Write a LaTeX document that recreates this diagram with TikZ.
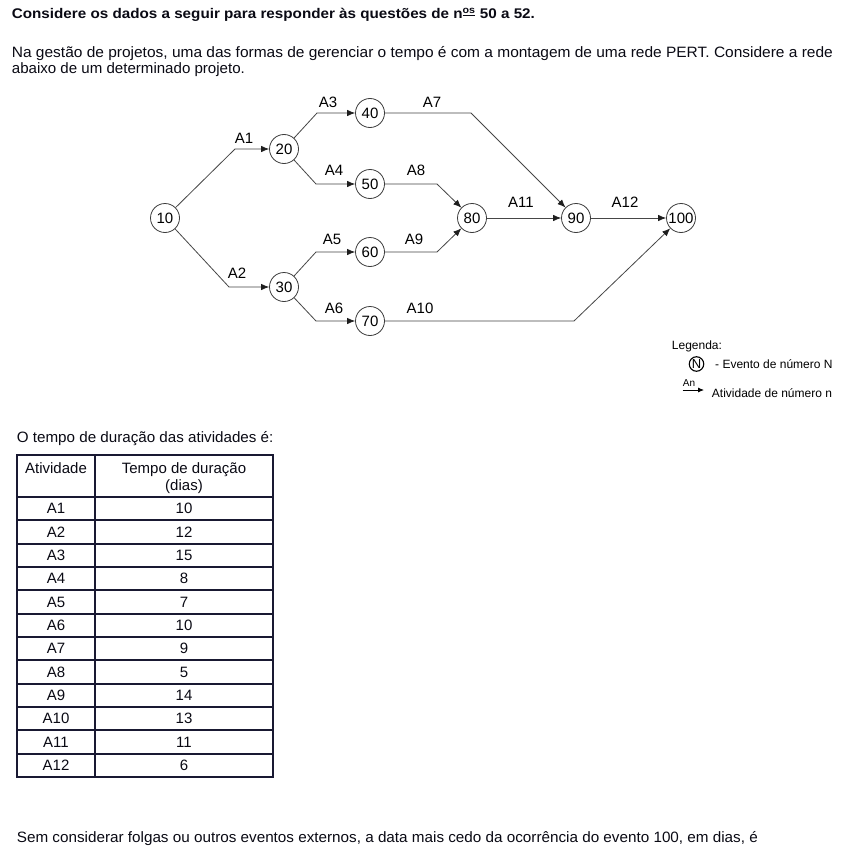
\documentclass[tikz,border=0pt]{standalone}
\usepackage{fontspec}
\usepackage{graphicx}
\setmainfont{Liberation Sans}
\usetikzlibrary{arrows.meta}
\definecolor{linec}{RGB}{70,70,70}
\definecolor{arrc}{RGB}{30,30,30}
\definecolor{evc}{RGB}{60,60,60}
\definecolor{tabc}{RGB}{25,25,50}
\definecolor{txtc}{RGB}{10,10,20}
\newcommand{\fitw}[2]{\resizebox{#1}{\height}{#2}}
\tikzset{
  txt/.style={inner sep=0pt, anchor=base west, text=txtc, font=\fontsize{15}{18}\selectfont},
  ttl/.style={inner sep=0pt, anchor=base west, text=txtc, font=\fontsize{14}{17}\selectfont\bfseries},
  ev/.style={circle, draw=evc, line width=0.8pt, minimum size=29pt, inner sep=0pt, font=\fontsize{15}{17}\selectfont},
  act/.style={draw=linec, line width=0.8pt, -{Latex[length=8pt,width=6.5pt,color=arrc]}},
  lab/.style={inner sep=0pt, anchor=base, font=\fontsize{15}{17}\selectfont},
  cell/.style={inner sep=0pt, anchor=base, text=txtc, font=\fontsize{15}{17}\selectfont},
  tline/.style={draw=tabc, line width=2pt},
  leg/.style={inner sep=0pt, anchor=base west, font=\fontsize{12}{14}\selectfont},
}
\begin{document}
\begin{tikzpicture}[x=1pt,y=-1pt]
\useasboundingbox[fill=white] (0,0) rectangle (842,856);

% texts
\node[ttl] (title) at (11.7,19) {\fitw{523pt}{Considere os dados a seguir para responder às questões de n\textsuperscript{\underline{os}} 50 a 52.}};
\node[txt] (p1) at (11.7,57.3) {\fitw{821pt}{Na gestão de projetos, uma das formas de gerenciar o tempo é com a montagem de uma rede PERT. Considere a rede}};
\node[txt] (p2) at (11.7,74) {\fitw{233pt}{abaixo de um determinado projeto.}};

% events
\node[ev] (n10) at (165,218) {10};
\node[ev] (n20) at (284,149) {20};
\node[ev] (n30) at (284,287) {30};
\node[ev] (n40) at (370,113) {40};
\node[ev] (n50) at (370,184) {50};
\node[ev] (n60) at (370,252) {60};
\node[ev] (n70) at (370,321) {70};
\node[ev] (n80) at (472,218) {80};
\node[ev] (n90) at (576,218) {90};
\node[ev] (n100) at (681,218) {100};

% bend points
\coordinate (b1) at (235,149);
\coordinate (b2) at (229,287);
\coordinate (b3) at (317,113);
\coordinate (b4) at (316,184);
\coordinate (b5) at (316,252);
\coordinate (b6) at (316,321);
\coordinate (b7) at (471,113);
\coordinate (b8) at (437,184);
\coordinate (b9) at (437,252);
\coordinate (b10) at (574,321);

% activities
\draw[act] (n10) -- (b1) -- (n20);
\draw[act] (n10) -- (b2) -- (n30);
\draw[act] (n20) -- (b3) -- (n40);
\draw[act] (n20) -- (b4) -- (n50);
\draw[act] (n30) -- (b5) -- (n60);
\draw[act] (n30) -- (b6) -- (n70);
\draw[act] (n40) -- (b7) -- (n90);
\draw[act] (n50) -- (b8) -- (n80);
\draw[act] (n60) -- (b9) -- (n80);
\draw[act] (n70) -- (b10) -- (n100);
\draw[act] (n80) -- (n90);
\draw[act] (n90) -- (n100);

% activity labels
\node[lab] (l1) at (244,143.3) {A1};
\node[lab] (l2) at (237,278) {A2};
\node[lab] (l3) at (328,108) {A3};
\node[lab] (l4) at (334,175) {A4};
\node[lab] (l5) at (332,244) {A5};
\node[lab] (l6) at (334,313) {A6};
\node[lab] (l7) at (432,108) {A7};
\node[lab] (l8) at (416,175) {A8};
\node[lab] (l9) at (414,244) {A9};
\node[lab] (l10) at (420,313) {A10};
\node[lab] (l11) at (521,207) {A11};
\node[lab] (l12) at (625,207) {A12};

% legend
\node[leg] (lg) at (671.7,349) {Legenda:};
\node[circle, draw=black, line width=1.1pt, minimum size=14.5pt, inner sep=0pt, font=\fontsize{13}{14}\selectfont] (lgN) at (696.5,364) {N};
\node[leg] (lgt1) at (715,368.3) {- Evento de número N};
\coordinate (la1) at (682.7,390);
\coordinate (la2) at (704,390);
\draw[draw=black, line width=0.8pt, -{Latex[length=6pt,width=5pt]}] (la1) -- (la2);
\node[inner sep=0pt, anchor=base west, font=\fontsize{10}{11}\selectfont] (lgAn) at (682.7,386.7) {An};
\node[leg] (lgt2) at (711.7,397) {Atividade de número n};

% table caption
\node[txt] (cap) at (16.7,442.7) {\fitw{256.5pt}{O tempo de duração das atividades é:}};

% table
\draw[tline] (17,455) rectangle (273,777);
\draw[tline] (95,455) -- (95,777);
\draw[tline] (17,497) -- (273,497);
\node[cell] (h1) at (56,473.3) {Atividade};
\node[cell] (h2) at (184,473.3) {Tempo de duração};
\node[cell] (h3) at (184,490.5) {(dias)};
\foreach \a/\t [count=\i] in {A1/10,A2/12,A3/15,A4/8,A5/7,A6/10,A7/9,A8/5,A9/14,A10/13,A11/11,A12/6}{
  \pgfmathsetmacro\yb{497+23.33*\i}
  \draw[tline] (17,\yb) -- (273,\yb);
  \node[cell] (ta\i) at (56,\yb-6.4) {\a};
  \node[cell] (tt\i) at (184,\yb-6.4) {\t};
}

% bottom
\node[txt] (q) at (16.7,842.7) {\fitw{741pt}{Sem considerar folgas ou outros eventos externos, a data mais cedo da ocorrência do evento 100, em dias, é}};
\end{tikzpicture}
\end{document}
